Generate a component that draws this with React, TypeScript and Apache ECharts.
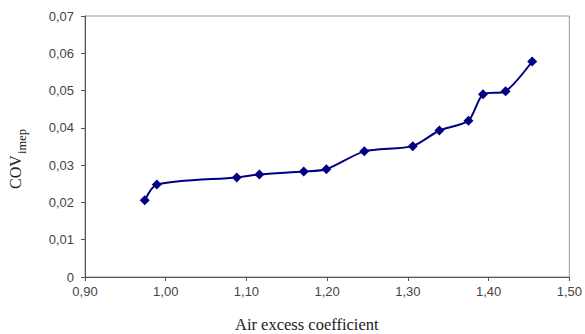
import React, { useEffect, useRef } from "react";
import * as echarts from "echarts";

const airExcess = [0.974, 0.989, 1.088, 1.116, 1.171, 1.199, 1.246, 1.306, 1.339, 1.375, 1.393, 1.421, 1.454];
const covImep = [0.0206, 0.0248, 0.0267, 0.0275, 0.0283, 0.0289, 0.0337, 0.0351, 0.0393, 0.0419, 0.049, 0.0498, 0.0578];

const fmt = (v: number) => (Math.abs(v) < 1e-9 ? "0" : v.toFixed(2).replace(".", ","));

export default function App() {
  const ref = useRef<HTMLDivElement>(null);
  useEffect(() => {
    if (!ref.current) return;
    const chart = echarts.init(ref.current, undefined, { renderer: "svg" });
    chart.setOption({
      animation: false,
      backgroundColor: "#fff",
      grid: {
        left: 85,
        right: 14,
        top: 16,
        bottom: 57,
        show: true,
        borderColor: "#999",
        borderWidth: 1,
        containLabel: false,
      },
      xAxis: {
        type: "value",
        min: 0.9,
        max: 1.5,
        interval: 0.1,
        axisLine: { show: true, onZero: false, lineStyle: { color: "#555", width: 1 } },
        axisTick: { show: true, length: 4, lineStyle: { color: "#555" } },
        axisLabel: {
          formatter: (v: number) => fmt(v),
          color: "#444",
          fontFamily: "Liberation Sans, Arial, sans-serif",
          fontSize: 13,
          margin: 8,
        },
        splitLine: { show: false },
      },
      yAxis: {
        type: "value",
        min: 0,
        max: 0.07,
        interval: 0.01,
        axisLine: { show: true, lineStyle: { color: "#555", width: 1 } },
        axisTick: { show: true, length: 4, lineStyle: { color: "#555" } },
        axisLabel: {
          formatter: (v: number) => fmt(v),
          color: "#444",
          fontFamily: "Liberation Sans, Arial, sans-serif",
          fontSize: 13,
          margin: 11,
        },
        splitLine: { show: false },
      },
      graphic: [
        {
          type: "text",
          left: 235,
          top: 316,
          style: {
            text: "Air excess coefficient",
            fontFamily: "Liberation Serif, Times New Roman, serif",
            fontSize: 16.5,
            fill: "#222",
          },
        },
        {
          type: "group",
          x: 23,
          y: 189,
          rotation: Math.PI / 2,
          children: [
            {
              type: "text",
              x: 0,
              y: 0,
              style: {
                text: "COV",
                fontFamily: "Liberation Serif, Times New Roman, serif",
                fontSize: 16,
                fill: "#222",
                textAlign: "left",
                textVerticalAlign: "bottom",
              },
            },
            {
              type: "text",
              x: 35,
              y: 5,
              style: {
                text: "imep",
                fontFamily: "Liberation Serif, Times New Roman, serif",
                fontSize: 12.5,
                fill: "#222",
                textAlign: "left",
                textVerticalAlign: "bottom",
              },
            },
          ],
        },
      ],
      series: [
        {
          type: "line",
          data: airExcess.map((x, i) => [x, covImep[i]]),
          smooth: 0.25,
          symbol: "diamond",
          symbolSize: 10,
          itemStyle: { color: "#000080" },
          lineStyle: { color: "#000080", width: 2 },
        },
      ],
    });
    return () => chart.dispose();
  }, []);
  return <div ref={ref} style={{ width: 585, height: 334, position: "absolute", left: 0, top: 0 }} />;
}
